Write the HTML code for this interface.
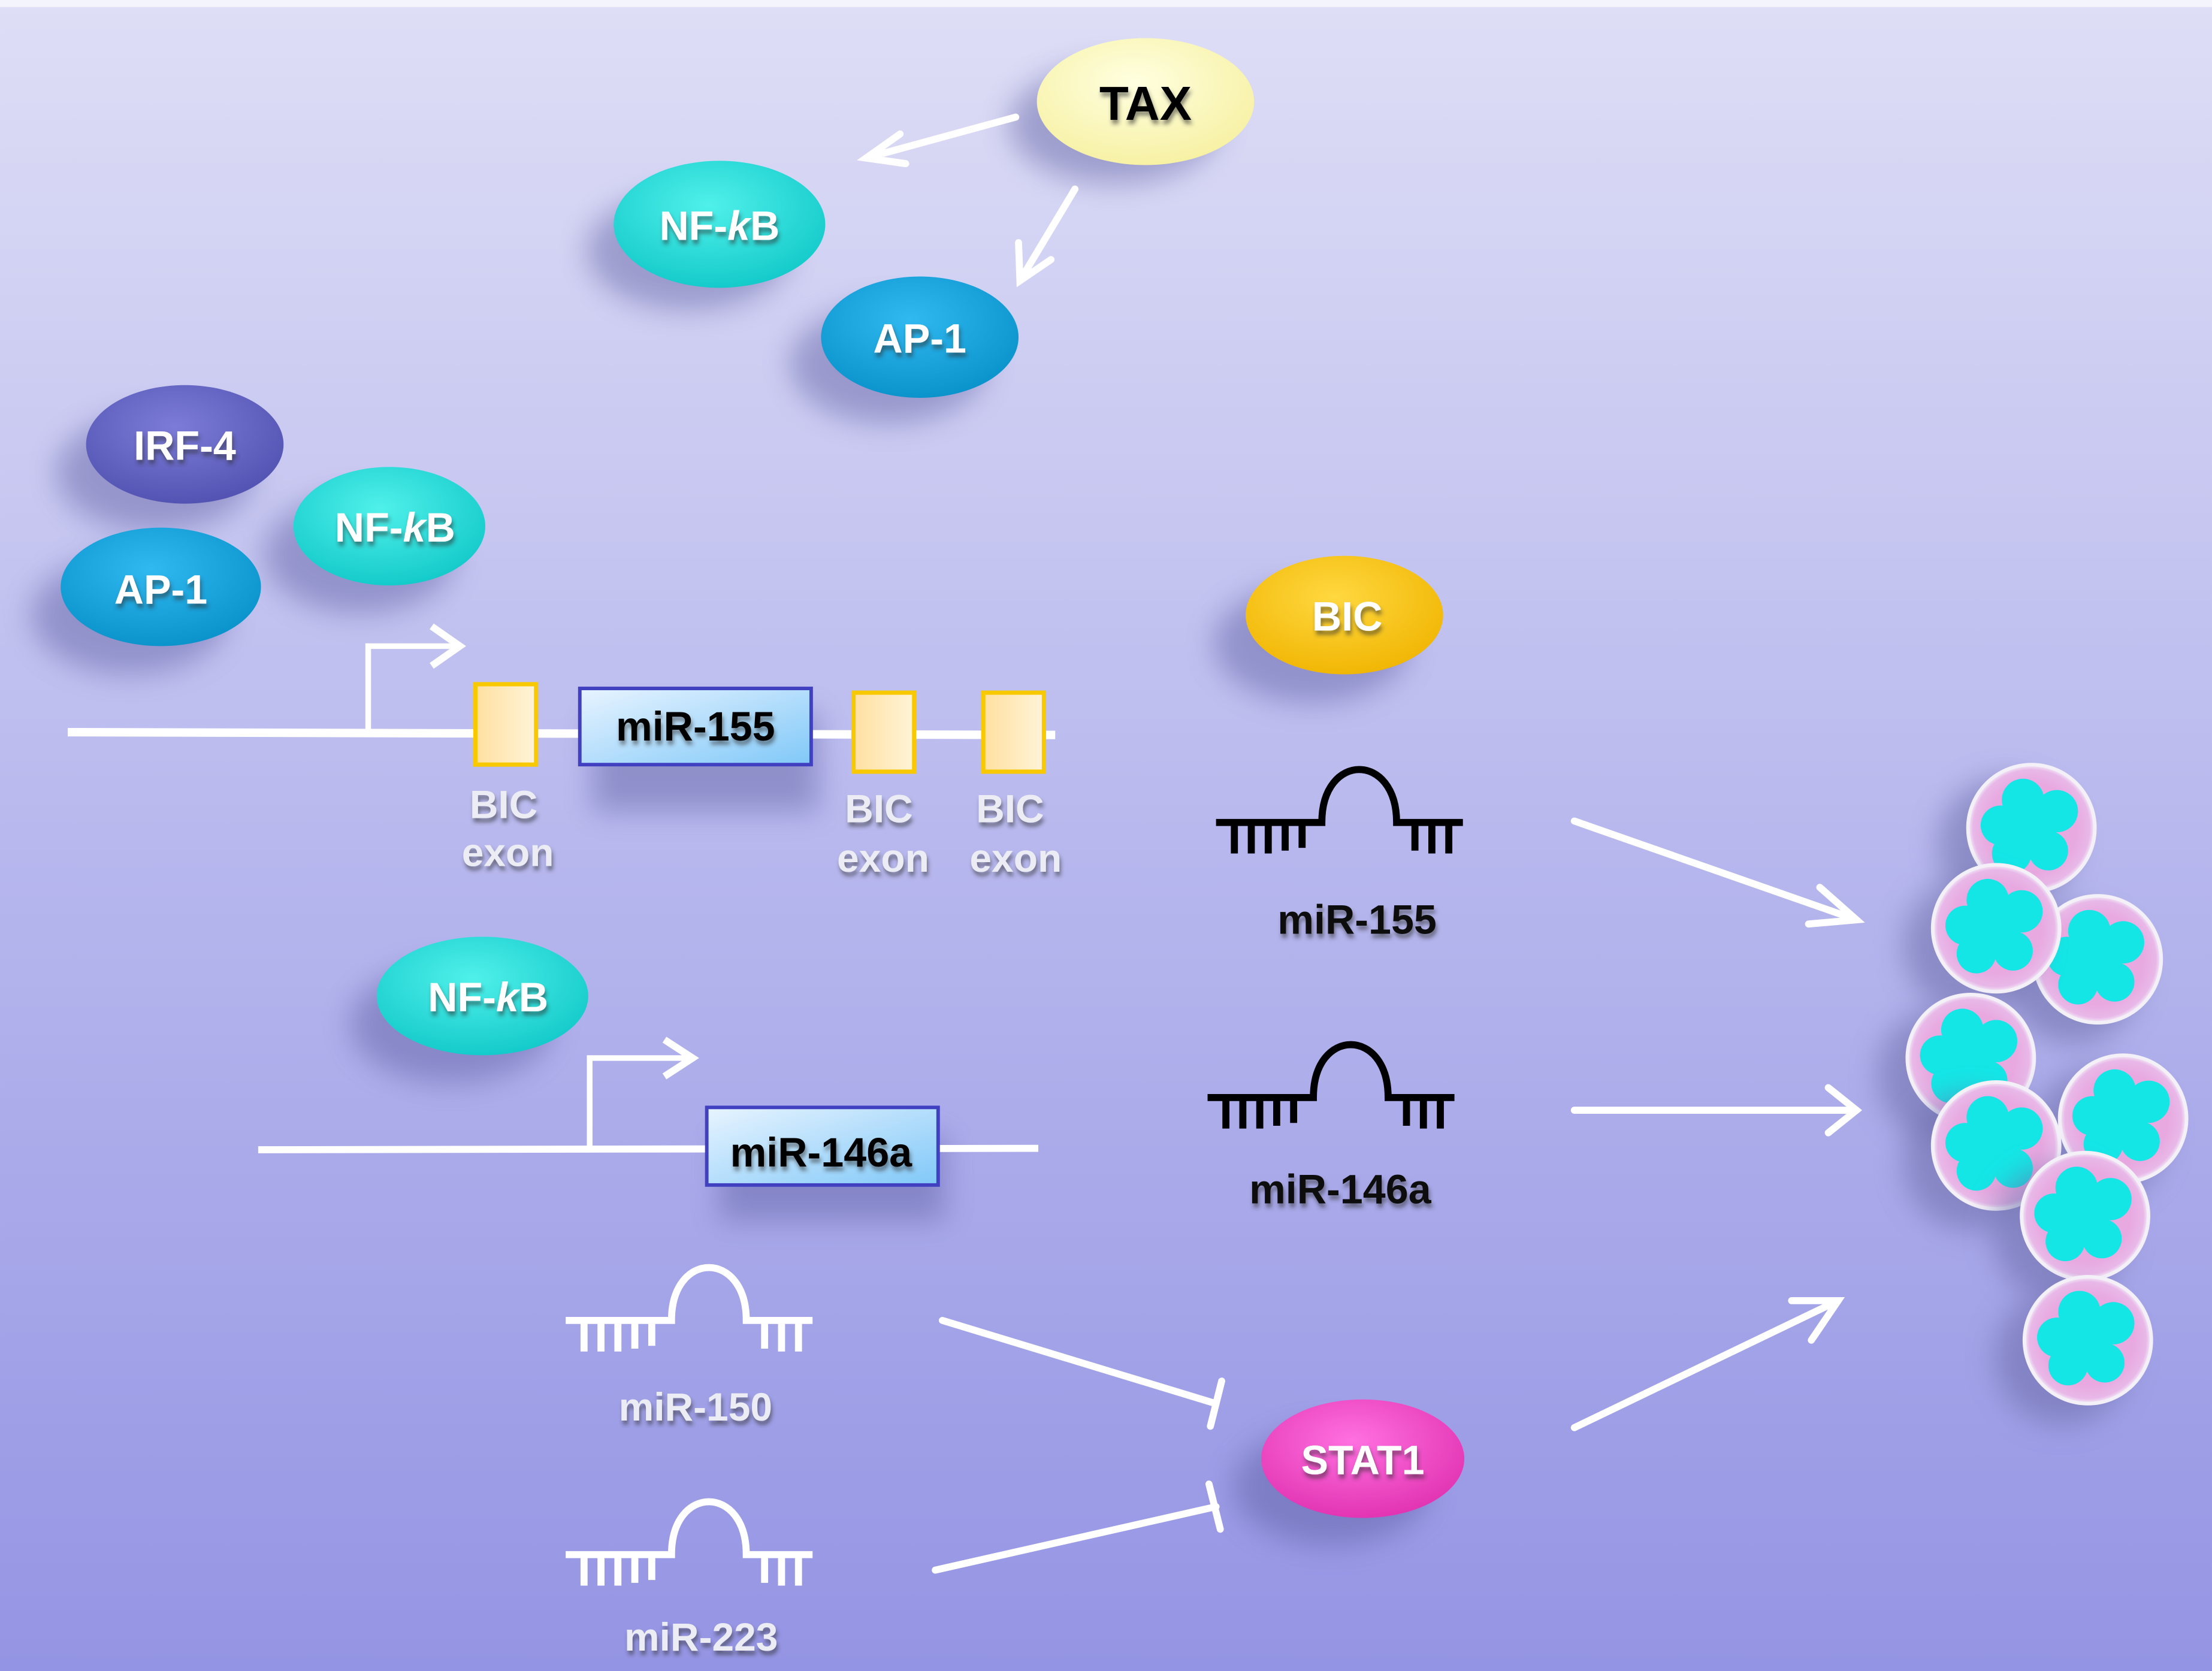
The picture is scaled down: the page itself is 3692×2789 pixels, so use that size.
<!DOCTYPE html>
<html><head><meta charset="utf-8"><style>
html,body{margin:0;padding:0;}
body{width:3692px;height:2789px;overflow:hidden;}
svg{display:block;}
text{font-family:"Liberation Sans",sans-serif;font-weight:bold;}
</style></head><body>
<svg width="3692" height="2789" viewBox="0 0 1568 1184.5" xmlns="http://www.w3.org/2000/svg">
<defs>
<linearGradient id="bg" x1="0" y1="0" x2="0" y2="1">
<stop offset="0" stop-color="#dedef6"/><stop offset="0.5" stop-color="#b8b8ee"/><stop offset="1" stop-color="#9494e4"/>
</linearGradient>
<filter id="sh" x="-50%" y="-50%" width="200%" height="200%"><feGaussianBlur stdDeviation="10"/></filter>
<filter id="ts" x="-20%" y="-20%" width="140%" height="160%"><feDropShadow dx="1" dy="3" stdDeviation="1.5" flood-color="#333" flood-opacity="0.55"/></filter>
<radialGradient id="gY" cx="0.45" cy="0.35" r="0.7"><stop offset="0" stop-color="#ffffe0"/><stop offset="1" stop-color="#f6f0a0"/></radialGradient>
<radialGradient id="gC" cx="0.45" cy="0.35" r="0.7"><stop offset="0" stop-color="#50f0ea"/><stop offset="1" stop-color="#10c8c8"/></radialGradient>
<radialGradient id="gB" cx="0.45" cy="0.35" r="0.7"><stop offset="0" stop-color="#30b8f0"/><stop offset="1" stop-color="#0890c8"/></radialGradient>
<radialGradient id="gP" cx="0.45" cy="0.35" r="0.7"><stop offset="0" stop-color="#7c7cd8"/><stop offset="1" stop-color="#5050b0"/></radialGradient>
<radialGradient id="gG" cx="0.45" cy="0.35" r="0.7"><stop offset="0" stop-color="#ffd840"/><stop offset="1" stop-color="#f0b400"/></radialGradient>
<radialGradient id="gM" cx="0.45" cy="0.35" r="0.7"><stop offset="0" stop-color="#ff70e0"/><stop offset="1" stop-color="#e030b0"/></radialGradient>
<linearGradient id="gBox" x1="0" y1="0" x2="1" y2="1"><stop offset="0" stop-color="#e8f4ff"/><stop offset="1" stop-color="#80c8f8"/></linearGradient>
<linearGradient id="gEx" x1="0" y1="0" x2="1" y2="0"><stop offset="0" stop-color="#ffe0a0"/><stop offset="1" stop-color="#fff4d8"/></linearGradient>
<radialGradient id="gCell" cx="0.5" cy="0.5" r="0.5"><stop offset="0.7" stop-color="#e8a8e0"/><stop offset="0.92" stop-color="#e8b8e8"/><stop offset="1" stop-color="#f4f0f8"/></radialGradient>
<g id="cell">
<circle r="48" fill="#6a6aa8" opacity="0.55" filter="url(#sh)" transform="translate(-18,12)"/>
<circle r="45" fill="url(#gCell)" stroke="#f4f0f8" stroke-width="2.5"/>
<g fill="#14e6e6">
<circle cx="-6" cy="-20" r="15"/><circle cx="18" cy="-12" r="15"/><circle cx="12" cy="16" r="14"/><circle cx="-14" cy="18" r="14"/><circle cx="-22" cy="-2" r="14"/><circle cx="0" cy="0" r="16"/>
</g>
</g>
<g id="hp" fill="none" stroke-width="5">
<path d="M0 40 H75 C75 -10 128 -10 128 40 H175"/>
<path d="M13 40 V62 M25 40 V62 M37 40 V62 M49 40 V60 M61 40 V58 M141 40 V60 M153 40 V62 M165 40 V62"/>
</g>
</defs>
<rect width="1568" height="1184.5" fill="url(#bg)"/>
<rect width="1568" height="5" fill="#f4f4fc"/>

<!-- shadows for ellipses -->
<g fill="#5a5aa0" opacity="0.45" filter="url(#sh)">
<ellipse cx="790" cy="88" rx="75" ry="42"/>
<ellipse cx="488" cy="178" rx="72" ry="42"/>
<ellipse cx="630" cy="258" rx="70" ry="42"/>
<ellipse cx="110" cy="335" rx="70" ry="42"/>
<ellipse cx="255" cy="393" rx="68" ry="42"/>
<ellipse cx="92" cy="436" rx="70" ry="42"/>
<ellipse cx="930" cy="456" rx="70" ry="42"/>
<ellipse cx="320" cy="726" rx="72" ry="42"/>
<ellipse cx="944" cy="1054" rx="70" ry="42"/>
<rect x="420" y="505" width="160" height="70"/>
<rect x="510" y="805" width="160" height="60"/>
</g>

<!-- arrows -->
<g stroke="#fff" stroke-width="5" fill="none" stroke-linecap="round">
<line x1="720" y1="83" x2="614" y2="112"/><path d="M638 95 L614 112 L642 116"/>
<line x1="762" y1="134" x2="723" y2="199"/><path d="M722 172 L723 199 L745 184"/>
<line x1="1116" y1="582" x2="1316" y2="652"/><path d="M1290 629 L1316 652 L1282 655"/>
<line x1="1116" y1="787" x2="1316" y2="787"/><path d="M1296 771 L1316 787 L1296 803"/>
<line x1="1116" y1="1012" x2="1303" y2="922"/><path d="M1270 922 L1303 922 L1284 950"/>
<line x1="668" y1="936" x2="862" y2="995"/><line x1="866" y1="979" x2="858" y2="1011"/>
<line x1="663" y1="1113" x2="862" y2="1068"/><line x1="857" y1="1052" x2="865" y2="1084"/>
</g>

<!-- gene 1 -->
<line x1="48" y1="519" x2="748" y2="521" stroke="#fff" stroke-width="6"/>
<path d="M261 519 V458 H326" stroke="#fff" stroke-width="4" fill="none"/>
<path d="M306 444 L326 458 L306 472" stroke="#fff" stroke-width="5" fill="none"/>
<rect x="337" y="485" width="43" height="57" fill="url(#gEx)" stroke="#f8c800" stroke-width="3"/>
<rect x="411" y="488" width="164" height="54" fill="url(#gBox)" stroke="#4040c0" stroke-width="2.5"/>
<rect x="605" y="491" width="43" height="56" fill="url(#gEx)" stroke="#f8c800" stroke-width="3"/>
<rect x="697" y="491" width="43" height="56" fill="url(#gEx)" stroke="#f8c800" stroke-width="3"/>
<text x="493" y="525" font-size="29" text-anchor="middle" fill="#000" filter="url(#ts)">miR-155</text>
<g font-size="28" fill="#ececf4" text-anchor="middle" filter="url(#ts)">
<text x="357" y="580">BIC</text><text x="360" y="614">exon</text>
<text x="623" y="583">BIC</text><text x="626" y="618">exon</text>
<text x="716" y="583">BIC</text><text x="720" y="618">exon</text>
</g>

<!-- gene 2 -->
<line x1="183" y1="815" x2="736" y2="814" stroke="#fff" stroke-width="5"/>
<path d="M418 815 V750 H490" stroke="#fff" stroke-width="4" fill="none"/>
<path d="M471 737 L491 750 L471 763" stroke="#fff" stroke-width="5" fill="none"/>
<rect x="501" y="785" width="164" height="55" fill="url(#gBox)" stroke="#4040c0" stroke-width="2.5"/>
<text x="582" y="827" font-size="29" text-anchor="middle" fill="#000" filter="url(#ts)">miR-146a</text>

<!-- ellipses -->
<ellipse cx="812" cy="72" rx="77" ry="45" fill="url(#gY)"/>
<text x="812" y="85" font-size="34" text-anchor="middle" fill="#000" filter="url(#ts)">TAX</text>
<ellipse cx="510" cy="159" rx="75" ry="45" fill="url(#gC)"/>
<text x="510" y="170" font-size="29" text-anchor="middle" fill="#fff" filter="url(#ts)">NF-<tspan font-style="italic">k</tspan>B</text>
<ellipse cx="652" cy="239" rx="70" ry="43" fill="url(#gB)"/>
<text x="652" y="250" font-size="29" text-anchor="middle" fill="#fff" filter="url(#ts)">AP-1</text>
<ellipse cx="131" cy="315" rx="70" ry="42" fill="url(#gP)"/>
<text x="131" y="326" font-size="29" text-anchor="middle" fill="#fff" filter="url(#ts)">IRF-4</text>
<ellipse cx="276" cy="373" rx="68" ry="42" fill="url(#gC)"/>
<text x="280" y="384" font-size="29" text-anchor="middle" fill="#fff" filter="url(#ts)">NF-<tspan font-style="italic">k</tspan>B</text>
<ellipse cx="114" cy="416" rx="71" ry="42" fill="url(#gB)"/>
<text x="114" y="428" font-size="29" text-anchor="middle" fill="#fff" filter="url(#ts)">AP-1</text>
<ellipse cx="953" cy="436" rx="70" ry="42" fill="url(#gG)"/>
<text x="955" y="447" font-size="29" text-anchor="middle" fill="#fff" filter="url(#ts)">BIC</text>
<ellipse cx="342" cy="706" rx="75" ry="42" fill="url(#gC)"/>
<text x="346" y="717" font-size="29" text-anchor="middle" fill="#fff" filter="url(#ts)">NF-<tspan font-style="italic">k</tspan>B</text>
<ellipse cx="966" cy="1034" rx="72" ry="42" fill="url(#gM)"/>
<text x="966" y="1045" font-size="29" text-anchor="middle" fill="#fff" filter="url(#ts)">STAT1</text>

<!-- hairpins -->
<use href="#hp" x="862" y="543" stroke="#000"/>
<text x="962" y="662" font-size="29" text-anchor="middle" fill="#111" filter="url(#ts)">miR-155</text>
<use href="#hp" x="856" y="738" stroke="#000"/>
<text x="950" y="853" font-size="29" text-anchor="middle" fill="#111" filter="url(#ts)">miR-146a</text>
<use href="#hp" x="401" y="896" stroke="#fff"/>
<text x="493" y="1007" font-size="28" text-anchor="middle" fill="#ececf4" filter="url(#ts)">miR-150</text>
<use href="#hp" x="401" y="1062" stroke="#fff"/>
<text x="497" y="1170" font-size="28" text-anchor="middle" fill="#ececf4" filter="url(#ts)">miR-223</text>

<!-- cells -->
<use href="#cell" x="1440" y="587"/>
<use href="#cell" x="1487" y="680"/>
<use href="#cell" x="1415" y="658"/>
<use href="#cell" x="1397" y="750"/>
<use href="#cell" x="1505" y="793"/>
<use href="#cell" x="1415" y="812"/>
<use href="#cell" x="1478" y="862"/>
<use href="#cell" x="1480" y="950"/>
</svg>
</body></html>
